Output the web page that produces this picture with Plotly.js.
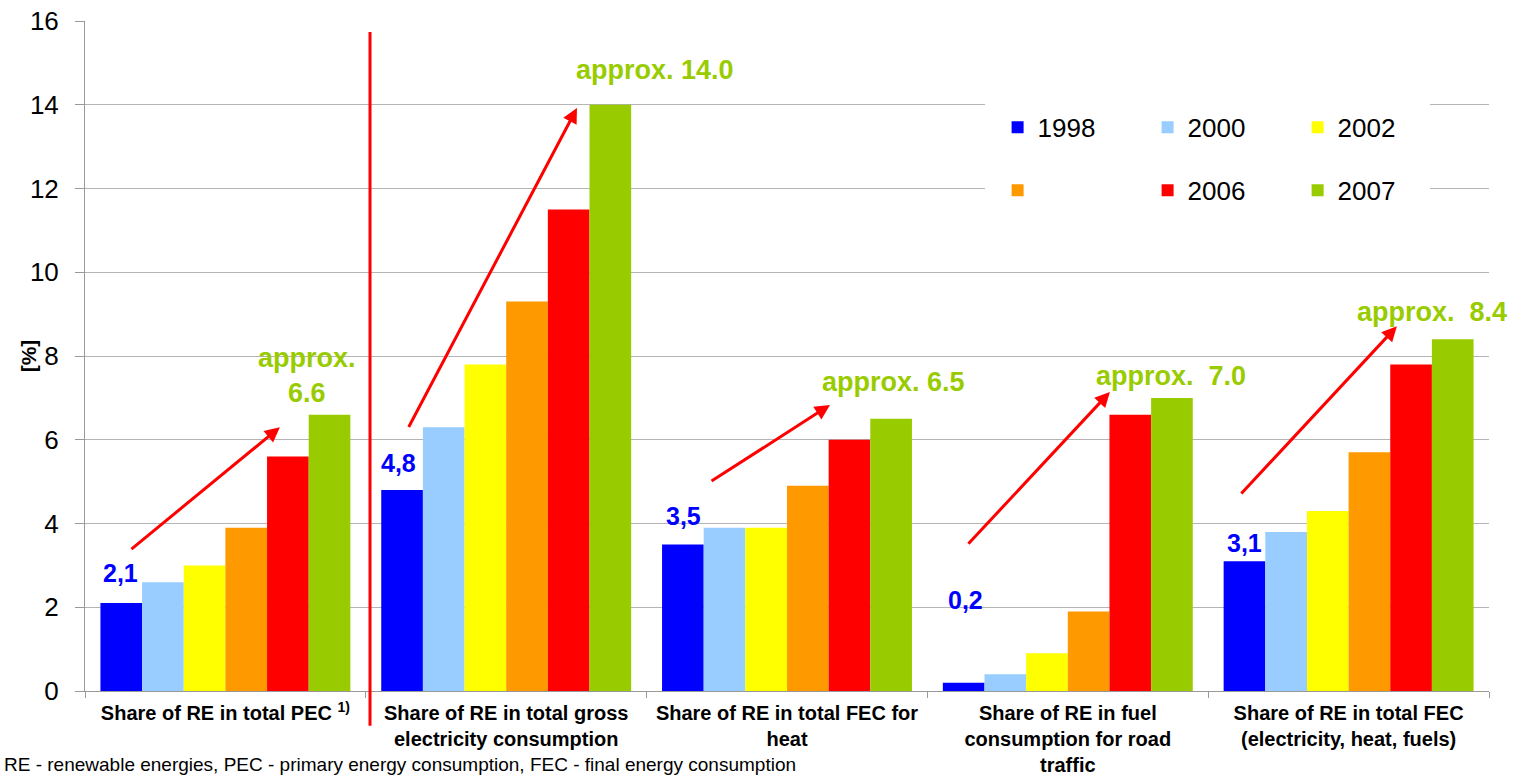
<!DOCTYPE html>
<html>
<head>
<meta charset="utf-8">
<script src="https://cdn.plot.ly/plotly-3.0.1.min.js"></script>
<style>html,body{margin:0;padding:0;background:#fff;}#chart{width:1517px;height:777px;}</style>
</head>
<body>
<div id="chart"></div>
<script>
// ---- data ----
var categories = [
  "Share of RE in total PEC <sup>1)</sup>",
  "Share of RE in total gross<br>electricity consumption",
  "Share of RE in total FEC for<br>heat",
  "Share of RE in fuel<br>consumption for road<br>traffic",
  "Share of RE in total FEC<br>(electricity, heat, fuels)"
];
var seriesNames = ["1998", "2000", "2002", "", "2006", "2007"];
var v1998 = [2.1, 4.8, 3.5, 0.2, 3.1];
var v2000 = [2.6, 6.3, 3.9, 0.4, 3.8];
var v2002 = [3.0, 7.8, 3.9, 0.9, 4.3];
var v2004 = [3.9, 9.3, 4.9, 1.9, 5.7];
var v2006 = [5.6, 11.5, 6.0, 6.6, 7.8];
var v2007 = [6.6, 14.0, 6.5, 7.0, 8.4];
var firstLabels = ["2,1", "4,8", "3,5", "0,2", "3,1"];
var approxLabels = ["approx.<br>6.6", "approx. 14.0", "approx. 6.5", "approx.  7.0", "approx.  8.4"];
var yTitle = "[%]";
var footnote = "RE - renewable energies, PEC - primary energy consumption, FEC - final energy consumption";

// ---- styling ----
var colors = ["#0000FF", "#99CCFF", "#FFFF00", "#FF9900", "#FF0000", "#99CC00"];
var allValues = [v1998, v2000, v2002, v2004, v2006, v2007];
var FONT = "Liberation Sans, Arial, sans-serif";

var traces = allValues.map(function (vals, i) {
  return {
    type: "bar",
    x: categories,
    y: vals,
    name: seriesNames[i],
    marker: {color: colors[i], line: {width: 0}},
    legend: i < 3 ? "legend" : "legend2",
    hoverinfo: "skip"
  };
});

// annotation positions (category index / value units)
var blueX = [-0.375, 0.618, 1.630, 2.637, 3.631];
var blueY = [2.81, 5.44, 4.17, 2.17, 3.53];
var greenX = [0.291, 1.53, 2.378, 3.368, 4.298];
var greenY = [7.54, 14.83, 7.37, 7.52, 9.05];
var arrowTailX = [-0.34, 0.650, 1.726, 2.641, 3.613];
var arrowTailY = [3.36, 6.27, 4.99, 3.48, 4.68];
var arrowHeadX = [0.194, 1.252, 2.153, 3.150, 4.172];
var arrowHeadY = [6.30, 13.92, 6.83, 7.14, 8.71];

var annotations = [];
for (var i = 0; i < 5; i++) {
  annotations.push({
    xref: "x", yref: "y", x: blueX[i], y: blueY[i], text: "<b>" + firstLabels[i] + "</b>",
    showarrow: false, font: {family: FONT, size: 25, color: "#0000FF"}
  });
  annotations.push({
    xref: "x", yref: "y", x: greenX[i], y: greenY[i], text: "<b>" + approxLabels[i] + "</b>",
    showarrow: false, font: {family: FONT, size: 27, color: "#99CC00"}
  });
  annotations.push({
    xref: "x", yref: "y", axref: "x", ayref: "y",
    x: arrowHeadX[i], y: arrowHeadY[i], ax: arrowTailX[i], ay: arrowTailY[i],
    text: "", showarrow: true, arrowhead: 2, arrowsize: 1, arrowwidth: 3, arrowcolor: "#FF0000"
  });
}
annotations.push({
  xref: "paper", yref: "paper", x: -0.0406, y: 0.501, xanchor: "center", yanchor: "middle",
  textangle: -90, text: "<b>" + yTitle + "</b>", showarrow: false,
  font: {family: FONT, size: 21, color: "#000"}
});
annotations.push({
  xref: "paper", yref: "paper", x: -0.059, y: -0.110, xanchor: "left", yanchor: "middle",
  text: footnote, showarrow: false, font: {family: FONT, size: 19, color: "#000"}
});

var layout = {
  width: 1517, height: 777,
  margin: {l: 85, r: 28, t: 21, b: 86},
  paper_bgcolor: "#fff", plot_bgcolor: "#fff",
  font: {family: FONT, color: "#000"},
  barmode: "group", bargap: 0.11, bargroupgap: 0,
  showlegend: true,
  xaxis: {
    type: "category", range: [-0.5, 4.5],
    showline: true, linecolor: "#999999", linewidth: 1,
    ticks: "outside", tickson: "boundaries", ticklen: 6, tickcolor: "#999999",
    tickfont: {family: FONT, size: 20, color: "#000", weight: "bold"},
    ticklabelstandoff: 4,
    showgrid: false, zeroline: false, fixedrange: true
  },
  yaxis: {
    range: [0, 16], dtick: 2, tick0: 0,
    showline: true, linecolor: "#999999", linewidth: 1,
    ticks: "outside", ticklen: 9, tickcolor: "#999999",
    tickfont: {family: FONT, size: 26, color: "#000"},
    ticklabelstandoff: 11,
    showgrid: true, gridcolor: "#B4B4B4", gridwidth: 1,
    zeroline: false, fixedrange: true
  },
  legend: {
    orientation: "h", x: 0.650, xanchor: "left", y: 0.8413, yanchor: "middle",
    entrywidth: 105, entrywidthmode: "pixels", bgcolor: "rgba(0,0,0,0)",
    font: {family: FONT, size: 26, color: "#000"}, traceorder: "normal"
  },
  legend2: {
    orientation: "h", x: 0.650, xanchor: "left", y: 0.7473, yanchor: "middle",
    entrywidth: 105, entrywidthmode: "pixels", bgcolor: "rgba(0,0,0,0)",
    font: {family: FONT, size: 26, color: "#000"}, traceorder: "normal"
  },
  shapes: [
    {type: "rect", xref: "paper", yref: "paper", x0: 0.641, x1: 0.958, y0: 0.70, y1: 0.885,
      fillcolor: "#fff", line: {width: 0}, layer: "above"},
    {type: "line", xref: "x", yref: "paper", x0: 0.515, x1: 0.515, y0: 0.9836, y1: -0.052,
      line: {color: "#FF0000", width: 3}}
  ],
  annotations: annotations
};

Plotly.newPlot("chart", traces, layout, {displayModeBar: false, staticPlot: true});
</script>
</body>
</html>
